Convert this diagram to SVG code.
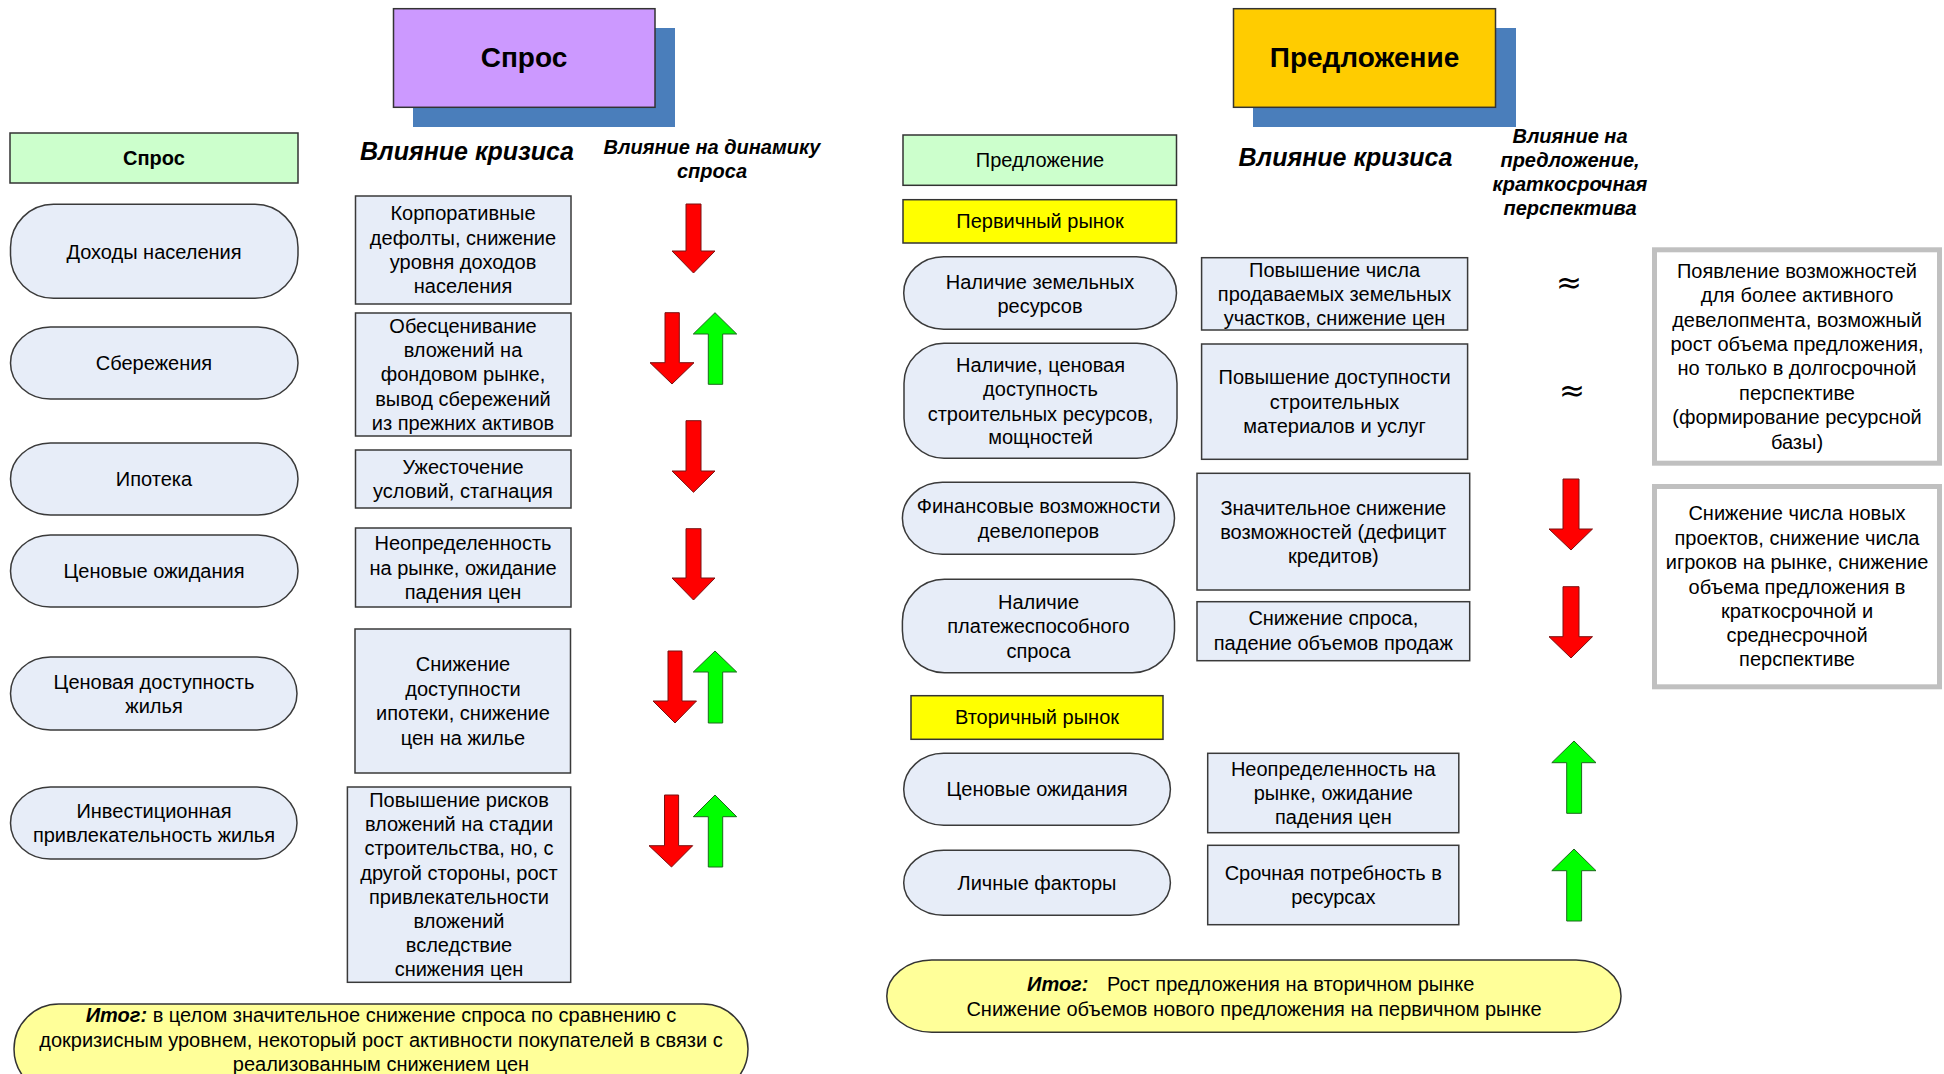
<svg xmlns="http://www.w3.org/2000/svg" width="1944" height="1074" viewBox="0 0 1944 1074">
<style>
text{font-family:"Liberation Sans",Arial,sans-serif;font-size:20px;fill:#000;text-anchor:middle}
.t{font-size:28px;font-weight:bold}
.h{font-size:25px;font-weight:bold;font-style:italic}
.hs{font-size:20px;font-weight:bold;font-style:italic}
.b{font-weight:bold}
.bi{font-weight:bold;font-style:italic}
.s{text-anchor:start}
.pill{fill:#e7edf8;stroke:#3a3a3a;stroke-width:1.5}
.box{fill:#e7edf8;stroke:#3a3a3a;stroke-width:1.5}
.gbox{fill:#ccffcc;stroke:#333;stroke-width:1.5}
.ybox{fill:#ffff00;stroke:#333;stroke-width:1.5}
.gray{fill:#fff;stroke:#c0c0c0;stroke-width:5}
.sum{fill:#ffff99;stroke:#333;stroke-width:1.5}
.shadow{fill:#4a7ebb}
.down{fill:#ff0000;stroke:#7a1010;stroke-width:1}
.up{fill:#00ff00;stroke:#1a6a1a;stroke-width:1}
.approx{font-family:"DejaVu Sans",sans-serif;font-size:31px}
</style>

<!-- LEFT: Спрос -->
<g id="title-demand">
<rect class="shadow" x="413" y="28" width="262" height="99"/>
<rect x="393.5" y="8.7" width="261.5" height="98.6" fill="#cc99ff" stroke="#333" stroke-width="1.5"/>
<text class="t" x="524" y="67">Спрос</text>
</g>
<g id="hdr-demand">
<rect class="gbox" x="10" y="133" width="288" height="50"/>
<text class="b" x="154" y="165">Спрос</text>
</g>
<g id="hdr-crisis-left">
<text class="h" x="467" y="160">Влияние кризиса</text>
</g>
<g id="hdr-dynamics">
<text class="hs" x="712" y="154">Влияние на динамику</text>
<text class="hs" x="712" y="178">спроса</text>
</g>

<g id="d-income">
<rect class="pill" x="10.5" y="204.3" width="287.5" height="94" rx="43" ry="43"/>
<text x="154" y="259">Доходы населения</text>
</g>
<g id="d-income-eff">
<rect class="box" x="355.5" y="196" width="215.5" height="108"/>
<text x="463" y="220">Корпоративные</text>
<text x="463" y="245">дефолты, снижение</text>
<text x="463" y="269">уровня доходов</text>
<text x="463" y="293">населения</text>
</g>

<g id="d-savings">
<rect class="pill" x="10.5" y="327" width="287.5" height="72" rx="40" ry="36"/>
<text x="154" y="370">Сбережения</text>
</g>
<g id="d-savings-eff">
<rect class="box" x="355.5" y="313" width="215.5" height="123"/>
<text x="463" y="333">Обесценивание</text>
<text x="463" y="357">вложений на</text>
<text x="463" y="381">фондовом рынке,</text>
<text x="463" y="406">вывод сбережений</text>
<text x="463" y="430">из прежних активов</text>
</g>

<g id="d-mortgage">
<rect class="pill" x="10.5" y="443" width="287.5" height="72" rx="40" ry="36"/>
<text x="154" y="486">Ипотека</text>
</g>
<g id="d-mortgage-eff">
<rect class="box" x="355.5" y="450" width="215.5" height="58"/>
<text x="463" y="474">Ужесточение</text>
<text x="463" y="498">условий, стагнация</text>
</g>

<g id="d-price-exp">
<rect class="pill" x="10.5" y="535" width="287.5" height="72" rx="40" ry="36"/>
<text x="154" y="578">Ценовые ожидания</text>
</g>
<g id="d-price-exp-eff">
<rect class="box" x="355.5" y="528" width="215.5" height="79"/>
<text x="463" y="550">Неопределенность</text>
<text x="463" y="575">на рынке, ожидание</text>
<text x="463" y="599">падения цен</text>
</g>

<g id="d-afford">
<rect class="pill" x="10.5" y="657" width="286.5" height="73" rx="40" ry="36.5"/>
<text x="154" y="689">Ценовая доступность</text>
<text x="154" y="713">жилья</text>
</g>
<g id="d-afford-eff">
<rect class="box" x="355" y="629" width="215.5" height="144"/>
<text x="463" y="671">Снижение</text>
<text x="463" y="696">доступности</text>
<text x="463" y="720">ипотеки, снижение</text>
<text x="463" y="745">цен на жилье</text>
</g>

<g id="d-invest">
<rect class="pill" x="10.5" y="787" width="286.5" height="72" rx="40" ry="36"/>
<text x="154" y="818">Инвестиционная</text>
<text x="154" y="842">привлекательность жилья</text>
</g>
<g id="d-invest-eff">
<rect class="box" x="347.4" y="787" width="223.3" height="195.3"/>
<text x="459" y="807">Повышение рисков</text>
<text x="459" y="831">вложений на стадии</text>
<text x="459" y="855">строительства, но, с</text>
<text x="459" y="880">другой стороны, рост</text>
<text x="459" y="904">привлекательности</text>
<text x="459" y="928">вложений</text>
<text x="459" y="952">вследствие</text>
<text x="459" y="976">снижения цен</text>
</g>

<g id="d-summary">
<rect class="sum" x="14" y="1004" width="734" height="90" rx="45" ry="45"/>
<text x="381" y="1022"><tspan class="bi">Итог:</tspan> в целом значительное снижение спроса по сравнению с</text>
<text x="381" y="1047">докризисным уровнем, некоторый рост активности покупателей в связи с</text>
<text x="381" y="1071">реализованным снижением цен</text>
</g>

<g id="demand-arrows">
<polygon class="down" points="686,204 701,204 701,251 715,251 693.5,273 672,251 686,251"/>
<polygon class="down" points="665,312.7 679.3,312.7 679.3,362.7 694,362.7 672,384 650,362.7 665,362.7"/>
<polygon class="up" points="708.3,384.3 722.7,384.3 722.7,334 736.7,334 715,312.7 693.3,334 708.3,334"/>
<polygon class="down" points="686,420.7 701,420.7 701,471 715,471 693.5,492.3 672,471 686,471"/>
<polygon class="down" points="686,528.7 701,528.7 701,578 715,578 693.5,600 672,578 686,578"/>
<polygon class="down" points="668,651 682,651 682,701 696.5,701 675,723 653,701 668,701"/>
<polygon class="up" points="708.3,723 722.7,723 722.7,672 736.7,672 715,651 693.3,672 708.3,672"/>
<polygon class="down" points="664.5,795 678.6,795 678.6,845.7 692.7,845.7 671.5,867 649,845.7 664.5,845.7"/>
<polygon class="up" points="708.3,867 722.7,867 722.7,816.7 736.7,816.7 715,795 693.3,816.7 708.3,816.7"/>
</g>

<!-- RIGHT: Предложение -->
<g id="title-supply">
<rect class="shadow" x="1253" y="28" width="263" height="99"/>
<rect x="1233.5" y="8.7" width="262" height="98.6" fill="#ffcc00" stroke="#333" stroke-width="1.5"/>
<text class="t" x="1364.5" y="67">Предложение</text>
</g>
<g id="hdr-supply">
<rect class="gbox" x="903" y="135" width="273.5" height="50.3"/>
<text x="1040" y="167">Предложение</text>
</g>
<g id="hdr-primary">
<rect class="ybox" x="903" y="199.7" width="273.5" height="43.3"/>
<text x="1040" y="228">Первичный рынок</text>
</g>
<g id="hdr-crisis-right">
<text class="h" x="1345.5" y="166">Влияние кризиса</text>
</g>
<g id="hdr-short-term">
<text class="hs" x="1570" y="143">Влияние на</text>
<text class="hs" x="1570" y="167">предложение,</text>
<text class="hs" x="1570" y="191">краткосрочная</text>
<text class="hs" x="1570" y="215">перспектива</text>
</g>

<g id="s-land">
<rect class="pill" x="903.7" y="256.7" width="272.8" height="72.6" rx="40" ry="36.3"/>
<text x="1040" y="289">Наличие земельных</text>
<text x="1040" y="313">ресурсов</text>
</g>
<g id="s-land-eff">
<rect class="box" x="1201.6" y="257.7" width="266" height="72.3"/>
<text x="1334.6" y="277">Повышение числа</text>
<text x="1334.6" y="301">продаваемых земельных</text>
<text x="1334.6" y="325">участков, снижение цен</text>
</g>

<g id="s-build">
<rect class="pill" x="904" y="343.3" width="273" height="115" rx="40" ry="40"/>
<text x="1040.5" y="372">Наличие, ценовая</text>
<text x="1040.5" y="396">доступность</text>
<text x="1040.5" y="421">строительных ресурсов,</text>
<text x="1040.5" y="444">мощностей</text>
</g>
<g id="s-build-eff">
<rect class="box" x="1201.6" y="344" width="266" height="115.3"/>
<text x="1334.6" y="384">Повышение доступности</text>
<text x="1334.6" y="409">строительных</text>
<text x="1334.6" y="433">материалов и услуг</text>
</g>

<g id="s-finance">
<rect class="pill" x="902.4" y="482.3" width="272.1" height="72" rx="40" ry="36"/>
<text x="1038.5" y="513">Финансовые возможности</text>
<text x="1038.5" y="538">девелоперов</text>
</g>
<g id="s-finance-eff">
<rect class="box" x="1197" y="473.3" width="272.7" height="116.7"/>
<text x="1333.3" y="515">Значительное снижение</text>
<text x="1333.3" y="539">возможностей (дефицит</text>
<text x="1333.3" y="563">кредитов)</text>
</g>

<g id="s-demand">
<rect class="pill" x="902.4" y="579.3" width="272.1" height="93.4" rx="42" ry="42"/>
<text x="1038.5" y="609">Наличие</text>
<text x="1038.5" y="633">платежеспособного</text>
<text x="1038.5" y="658">спроса</text>
</g>
<g id="s-demand-eff">
<rect class="box" x="1197" y="601.7" width="272.7" height="59"/>
<text x="1333.3" y="625">Снижение спроса,</text>
<text x="1333.3" y="650">падение объемов продаж</text>
</g>

<g id="s-note-long">
<rect class="gray" x="1654.5" y="249.8" width="285" height="213.4"/>
<text x="1797" y="278">Появление возможностей</text>
<text x="1797" y="302">для более активного</text>
<text x="1797" y="327">девелопмента, возможный</text>
<text x="1797" y="351">рост объема предложения,</text>
<text x="1797" y="375">но только в долгосрочной</text>
<text x="1797" y="400">перспективе</text>
<text x="1797" y="424">(формирование ресурсной</text>
<text x="1797" y="449">базы)</text>
</g>
<g id="s-note-short">
<rect class="gray" x="1654.5" y="486.5" width="285" height="200.3"/>
<text x="1797" y="520">Снижение числа новых</text>
<text x="1797" y="545">проектов, снижение числа</text>
<text x="1797" y="569">игроков на рынке, снижение</text>
<text x="1797" y="594">объема предложения в</text>
<text x="1797" y="618">краткосрочной и</text>
<text x="1797" y="642">среднесрочной</text>
<text x="1797" y="666">перспективе</text>
</g>

<g id="hdr-secondary">
<rect class="ybox" x="911" y="695.7" width="252" height="43.6"/>
<text x="1037" y="724">Вторичный рынок</text>
</g>
<g id="s-price-exp">
<rect class="pill" x="903.7" y="753.3" width="266.7" height="72" rx="40" ry="36"/>
<text x="1037" y="796">Ценовые ожидания</text>
</g>
<g id="s-price-exp-eff">
<rect class="box" x="1207.7" y="753.3" width="251.1" height="79.4"/>
<text x="1333.3" y="776">Неопределенность на</text>
<text x="1333.3" y="800">рынке, ожидание</text>
<text x="1333.3" y="824">падения цен</text>
</g>
<g id="s-personal">
<rect class="pill" x="903.7" y="850.3" width="266.7" height="65" rx="40" ry="32.5"/>
<text x="1037" y="890">Личные факторы</text>
</g>
<g id="s-personal-eff">
<rect class="box" x="1207.7" y="845.3" width="251.1" height="79.4"/>
<text x="1333.3" y="880">Срочная потребность в</text>
<text x="1333.3" y="904">ресурсах</text>
</g>

<g id="s-summary">
<rect class="sum" x="886.8" y="960" width="734.2" height="72.3" rx="45" ry="36"/>
<text class="bi s" x="1027" y="991">Итог:</text>
<text class="s" x="1107" y="991">Рост предложения на вторичном рынке</text>
<text x="1254" y="1016">Снижение объемов нового предложения на первичном рынке</text>
</g>

<g id="supply-indicators">
<text class="approx" x="1569" y="293">≈</text>
<text class="approx" x="1572" y="401">≈</text>
<polygon class="down" points="1563,479 1579,479 1579,529 1592.5,529 1571,550 1549,529 1563,529"/>
<polygon class="down" points="1563,586.7 1579,586.7 1579,636.7 1592.5,636.7 1571,658 1549,636.7 1563,636.7"/>
<polygon class="up" points="1566.7,813.3 1581.6,813.3 1581.6,762.7 1596,762.7 1574,741 1551.8,762.7 1566.7,762.7"/>
<polygon class="up" points="1566.7,921 1581.6,921 1581.6,870.7 1596,870.7 1574,849 1551.8,870.7 1566.7,870.7"/>
</g>

<g id="connectors"/>
</svg>
